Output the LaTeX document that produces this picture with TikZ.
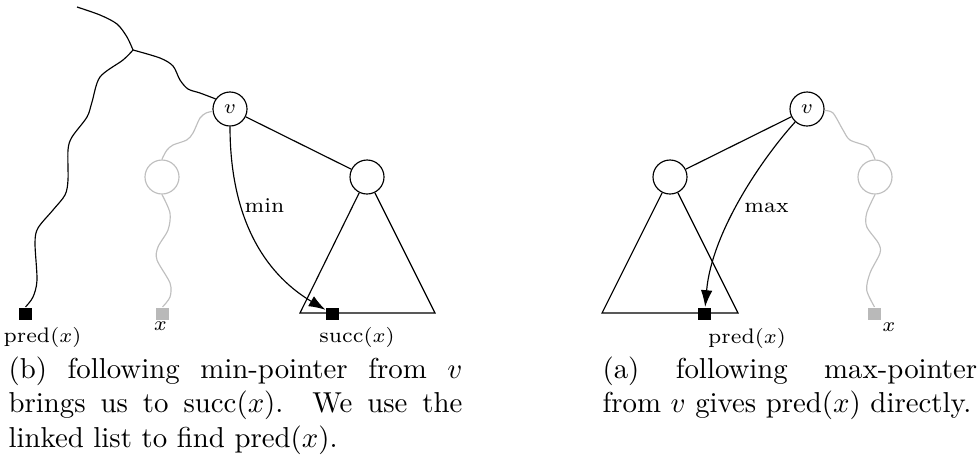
\documentclass[tikz,border=0pt]{standalone}
\usetikzlibrary{arrows.meta}
\begin{document}
\begin{tikzpicture}[x=0.347pt,y=-0.347pt,
  tn/.style={circle,draw,minimum size=11.8pt,inner sep=0pt,font=\fontsize{7.3}{8.8}\selectfont},
  gn/.style={tn,draw=gray!50},
  leaf/.style={fill=black,minimum size=4.5pt,inner sep=0pt},
  gleaf/.style={leaf,fill=gray!55},
  lab/.style={font=\fontsize{7.3}{8.8}\selectfont,inner sep=0pt},
  gline/.style={draw=gray!50},
  ptr/.style={-{Latex[length=5.8pt,width=4pt]}},
  capt/.style={inner sep=0pt,align=justify,font=\fontsize{10}{12}\selectfont}]
\useasboundingbox (0,0) rectangle (979,461);

% ---------- left picture (b) ----------
\node[tn] (v1) at (230,109) {$v$};
\node[gn] (g1) at (162,177) {};
\node[tn] (c1) at (367,177) {};
\node[leaf] (pl) at (25.5,314) {};
\node[gleaf] (x1) at (162.5,314) {};
\node[leaf] (su) at (332.5,314) {};
\coordinate (top) at (77,7);
\coordinate (j) at (133,50);
\coordinate (tl) at (300,313);
\coordinate (tr) at (435,313);

\draw plot[smooth] coordinates {(top) (100,15) (117,24) (127,37) (j)};
\draw plot[smooth] coordinates {(j) (160,58) (173,66) (180,80) (188,89) (200,93) (v1.145)};
\draw plot[smooth] coordinates {(j) (123,60) (100,77) (92,102) (87,117) (72,137) (68,150) (68,180) (65,195) (53,210) (38,228) (35,243) (37,280) (33,297) (pl.north)};
\draw[gline] plot[smooth] coordinates {(v1.188) (206.7,112.7) (200,118) (193,133) (186.7,140) (173,145) (167,150) (163,157) (g1.north)};
\draw[gline] plot[smooth] coordinates {(g1.south) (170,213) (168,230) (158,247) (157,260) (170,283) (170,297) (x1.north)};
\draw (v1) -- (c1);
\draw (c1) -- (tl) -- (tr) -- (c1);
\draw[ptr] (v1) .. controls (230,215) and (262,272) .. (su);
\node[lab,anchor=base] (minl) at (264.5,212) {min};
\node[lab,anchor=base] (lpl) at (42.5,342) {pred$(x)$};
\node[lab,anchor=base] (lx1) at (160.5,330) {$x$};
\node[lab,anchor=base] (lsu) at (357,342) {succ$(x)$};

% ---------- right picture (a) ----------
\node[tn] (v2) at (807,109) {$v$};
\node[tn] (c2) at (670,177) {};
\node[gn] (g2) at (875,177) {};
\node[leaf] (pr) at (704.5,314) {};
\node[gleaf] (x2) at (874.5,314) {};
\coordinate (tl2) at (602,313);
\coordinate (tr2) at (738,313);

\draw (v2) -- (c2);
\draw (c2) -- (tl2) -- (tr2) -- (c2);
\draw[gline] plot[smooth] coordinates {(v2.355) (833,113) (843,130) (850,140) (868,147) (g2.north)};
\draw[gline] plot[smooth] coordinates {(g2.south) (866.7,213) (866.7,226.7) (878.3,243) (880,253) (870,273) (866.7,290) (x2.north)};
\draw[ptr] (v2) .. controls (765,155) and (712,230) .. (pr);
\node[lab,anchor=base] (maxl) at (766.5,212) {max};
\node[lab,anchor=base] (lpr) at (747,343) {pred$(x)$};
\node[lab,anchor=base] (lx2) at (889,331) {$x$};

% ---------- captions ----------
\node[capt,anchor=base west,text width=157.5pt] (capb) at (8,378)
  {(b) following min-pointer from $v$ brings us to $\mathrm{succ}(x)$. We use the linked list to find $\mathrm{pred}(x)$.};
\node[capt,anchor=base west,text width=130pt] (capa) at (602,378)
  {(a) following max-pointer from $v$ gives $\mathrm{pred}(x)$ directly.};
\end{tikzpicture}
\end{document}
